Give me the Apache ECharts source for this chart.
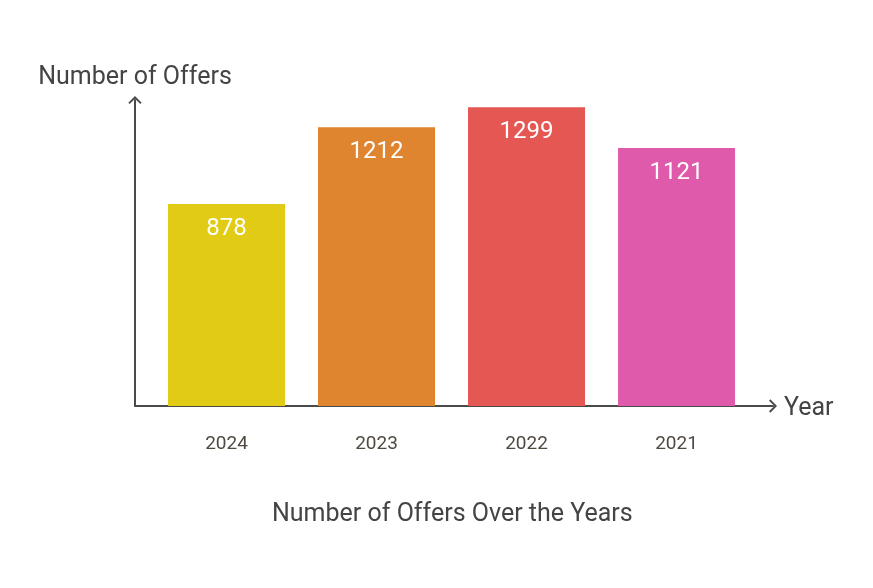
<!DOCTYPE html>
<html>
<head>
<meta charset="utf-8">
<script src="https://cdn.jsdelivr.net/npm/echarts@6/dist/echarts.min.js"></script>
<style>
* { margin: 0; padding: 0; }
body { background: #fff; }
#chart { width: 873px; height: 588px; }
</style>
</head>
<body>
<div id="chart"></div>
<script>
// data
const years = ['2024', '2023', '2022', '2021']
const offers = [878, 1212, 1299, 1121]
const barColors = ['#E1CB15', '#E0852F', '#E55753', '#E05AAB']

const font = 'Roboto, "Noto Sans", sans-serif'
const arrow = 'path://M0,7 L7,0 L14,7 L12.6,8.4 L7,2.8 L1.4,8.4 Z'

const chart = echarts.init(document.getElementById('chart'))
chart.setOption({
    animation: false,
    title: {
        text: 'Number of Offers Over the Years',
        left: 267,
        top: 497,
        textStyle: { fontFamily: font, fontSize: 25, fontWeight: 'normal', color: '#444' }
    },
    grid: { left: 135, right: 100, top: 100, bottom: 182 },
    xAxis: {
        type: 'value',
        min: -0.61,
        max: 3.643,
        name: 'Year',
        nameLocation: 'end',
        nameGap: 11,
        nameTextStyle: { fontFamily: font, fontSize: 25, color: '#444', align: 'left', verticalAlign: 'top', lineHeight: 25, padding: [-10, 0, 0, 0] },
        splitLine: { show: false },
        axisTick: { show: false },
        axisLine: {
            lineStyle: { color: '#4a4a4a', width: 2 },
            symbol: ['none', arrow],
            symbolSize: [15, 8]
        },
        axisLabel: {
            customValues: [0, 1, 2, 3],
            formatter: v => years[Math.round(v)],
            margin: 29,
            fontFamily: font,
            fontSize: 19,
            color: '#4f4a40'
        }
    },
    yAxis: {
        type: 'value',
        min: 0,
        max: 1330,
        name: 'Number of Offers',
        nameLocation: 'end',
        nameGap: 22,
        nameTextStyle: { fontFamily: font, fontSize: 25, color: '#444', align: 'center', verticalAlign: 'middle' },
        splitLine: { show: false },
        axisTick: { show: false },
        axisLabel: { show: false },
        axisLine: {
            show: true,
            onZero: false,
            lineStyle: { color: '#4a4a4a', width: 2 },
            symbol: ['none', arrow],
            symbolSize: [15, 8]
        }
    },
    series: [{
        type: 'bar',
        barWidth: 117,
        data: offers.map((v, i) => ({ value: [i, v], itemStyle: { color: barColors[i] } })),
        label: {
            show: true,
            position: 'insideTop',
            distance: 13,
            formatter: p => p.value[1],
            fontFamily: font,
            fontSize: 24,
            lineHeight: 24,
            color: '#fff'
        }
    }]
})
</script>
</body>
</html>
